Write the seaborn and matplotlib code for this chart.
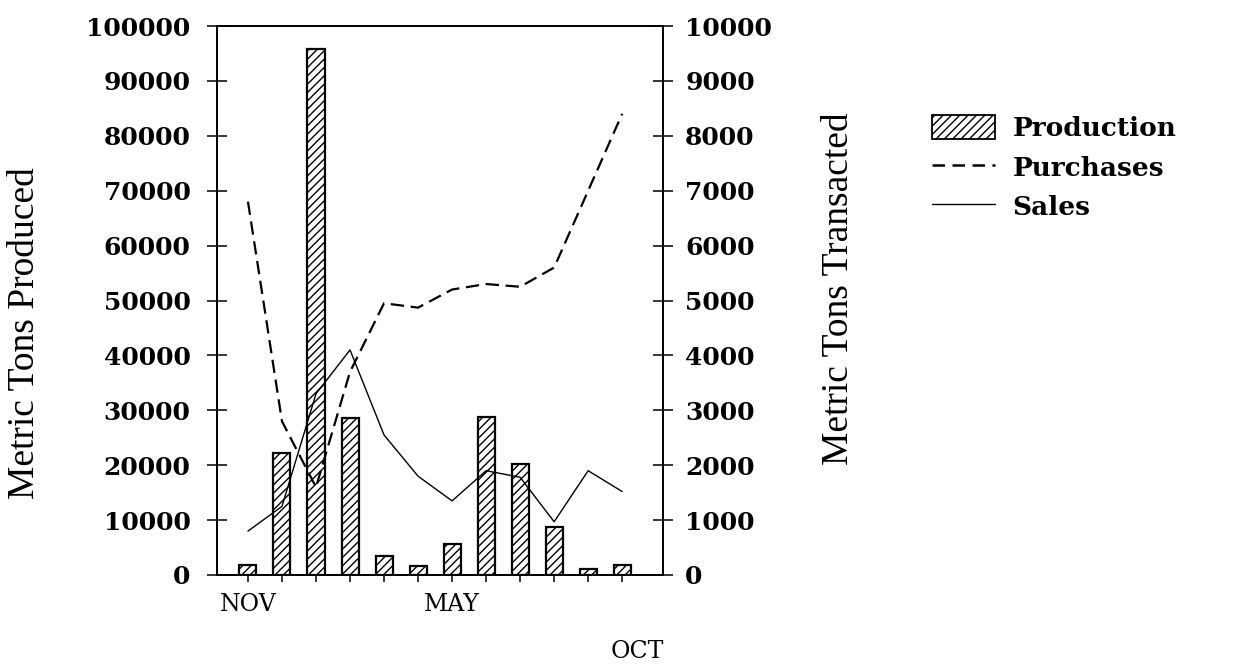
import numpy as np
import matplotlib
matplotlib.use("Agg")
import matplotlib.pyplot as plt
from matplotlib.patches import Patch
from matplotlib.lines import Line2D
from matplotlib.transforms import ScaledTranslation
from matplotlib.font_manager import FontProperties
import seaborn as sns

# ---- data ----
months = ["NOV", "DEC", "JAN", "FEB", "MAR", "APR", "MAY", "JUN", "JUL", "AUG", "SEP", "OCT"]
month_ticks = ["NOV", "", "", "", "", "", "MAY", "", "", "", "", "OCT"]
production = [1800, 22200, 95800, 28600, 3500, 1700, 5600, 28700, 20200, 8700, 1100, 1900]
purchases = [6800, 2800, 1600, 3700, 4950, 4870, 5200, 5300, 5250, 5600, 7000, 8400]
sales = [800, 1250, 3300, 4100, 2550, 1800, 1350, 1900, 1780, 970, 1900, 1520]
left_ticks = [0, 10000, 20000, 30000, 40000, 50000, 60000, 70000, 80000, 90000, 100000]
right_ticks = [0, 1000, 2000, 3000, 4000, 5000, 6000, 7000, 8000, 9000, 10000]
series_names = ["Production", "Purchases", "Sales"]

sns.set_style("ticks")
plt.rcParams["font.family"] = ["DejaVu Serif", "DejaVu Sans"]
plt.rcParams["hatch.linewidth"] = 1.0
plt.rcParams["text.color"] = "black"
plt.rcParams["axes.labelcolor"] = "black"
plt.rcParams["xtick.color"] = "black"
plt.rcParams["ytick.color"] = "black"

fig = plt.figure(figsize=(12.5, 6.69), dpi=100)
ax = fig.add_axes([217 / 1250, 1 - 575 / 669, 446 / 1250, 549 / 669])

pos = np.arange(len(months))

sns.barplot(x=months, y=production, ax=ax, color="white", edgecolor="black",
            linewidth=1.6, width=0.5, hatch="////", saturation=1)

ax2 = ax.twinx()
sns.lineplot(x=pos, y=purchases, ax=ax2, color="black", linewidth=1.6,
             linestyle=(0, (6, 3)))
sns.lineplot(x=pos, y=sales, ax=ax2, color="black", linewidth=1.0)

ax.set_xlim(-0.91, 12.2)
ax2.set_xlim(-0.91, 12.2)
ax.set_ylim(0, 100000)
ax2.set_ylim(0, 10000)

ax.set_yticks(left_ticks)
ax.set_yticklabels([str(v) for v in left_ticks])
ax2.set_yticks(right_ticks)
ax2.set_yticklabels([str(v) for v in right_ticks])
ax.set_xticks(pos)
ax.set_xticklabels(month_ticks)

num_fp = FontProperties(family="DejaVu Serif", weight="bold", size=18)
for lab in ax.get_yticklabels() + ax2.get_yticklabels():
    lab.set_fontproperties(num_fp)
for lab in ax.get_xticklabels():
    lab.set_fontproperties(FontProperties(family="DejaVu Serif", size=17))

ax.tick_params(axis="y", direction="inout", length=14, width=1.1, pad=12, colors="black")
ax2.tick_params(axis="y", direction="inout", length=14, width=1.1, pad=9, colors="black")
ax.tick_params(axis="x", direction="inout", length=10, width=1.1, pad=8, colors="black")

for a in (ax, ax2):
    for s in a.spines.values():
        s.set_visible(True)
        s.set_linewidth(1.3)
        s.set_color("black")

# stagger OCT label lower and slightly right, like the reference
oct_lab = ax.get_xticklabels()[11]
oct_lab.set_transform(oct_lab.get_transform() + ScaledTranslation(15 / 100, -47 / 100, fig.dpi_scale_trans))

ax.set_xlabel("")
ax.set_ylabel("Metric Tons Produced", family="Liberation Serif", fontsize=27, color="black")
ax2.set_ylabel("Metric Tons Transacted", family="Liberation Serif", fontsize=27, color="black")
ax.yaxis.set_label_coords((42 - 217) / 446, (575 - 333) / 549)
ax2.yaxis.set_label_coords((821 - 217) / 446, (575 - 289) / 549)

handles = [
    Patch(facecolor="white", edgecolor="black", hatch="////", linewidth=1.3),
    Line2D([], [], color="black", linewidth=1.8, linestyle=(0, (5, 3))),
    Line2D([], [], color="black", linewidth=1.0),
]
fig.legend(handles, series_names, loc="upper left",
           bbox_to_anchor=(932 / 1250, 1 - 115 / 669), frameon=False,
           prop=dict(family="DejaVu Serif", weight="bold", size=19),
           handlelength=2.4, handleheight=1.05, handletextpad=0.65,
           labelspacing=0.5, borderaxespad=0, borderpad=0, labelcolor="black")

fig.savefig("out.png", dpi=100, facecolor="white")
